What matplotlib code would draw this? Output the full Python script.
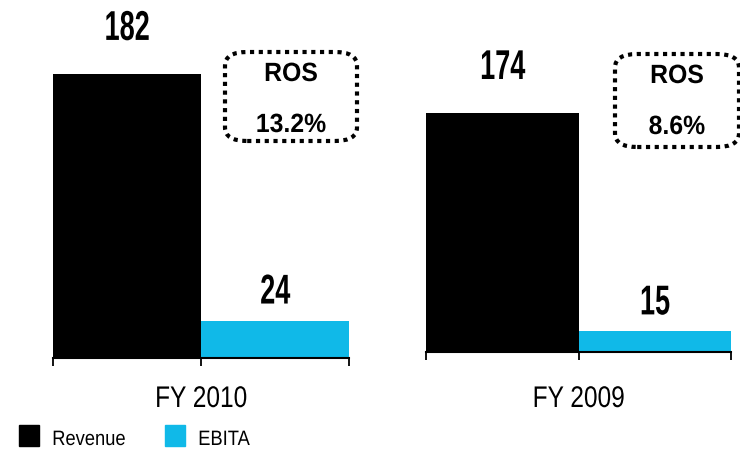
import matplotlib
matplotlib.use("Agg")
import matplotlib.pyplot as plt
from matplotlib.patches import FancyBboxPatch, Rectangle
from matplotlib.patheffects import AbstractPathEffect
from matplotlib.transforms import Affine2D

years = ["FY 2010", "FY 2009"]
series = ["Revenue", "EBITA"]
revenue = [182, 174]
ebita = [24, 15]
ros = ["13.2%", "8.6%"]

colors = ["#000000", "#10B9E8"]
W, H = 740, 452


class Squeeze(AbstractPathEffect):
    """Narrow the glyphs horizontally (the slide uses a condensed font)."""

    def __init__(self, sx, anchor="center"):
        super().__init__()
        self.sx = sx
        self.anchor = anchor

    def draw_path(self, renderer, gc, tpath, affine, rgbFace=None):
        ext = tpath.get_extents(affine)
        x0 = (ext.x0 + ext.x1) / 2 if self.anchor == "center" else ext.x0
        t = affine + Affine2D().translate(-x0, 0).scale(self.sx, 1).translate(x0, 0)
        renderer.draw_path(gc, tpath, t, rgbFace)


def fy(px):
    # pixel row from top -> figure fraction
    return 1 - px / H


fig = plt.figure(figsize=(W / 100, H / 100), dpi=100)

panels = [
    dict(rect=[53 / W, fy(359), 296 / W, 359 / H], ytop=230, box=(225, 53, 132, 89)),
    dict(rect=[426 / W, fy(353), 305 / W, 353 / H], ytop=257, box=(615, 55, 124, 93)),
]
label_off = [34, 17]  # px above bar top to baseline, revenue / ebita

for i, p in enumerate(panels):
    ax = fig.add_axes(p["rect"])
    vals = [revenue[i], ebita[i]]
    ax.bar([0, 1], vals, width=1.0, color=colors)
    ax.set_xlim(-0.5, 1.5)
    ax.set_ylim(0, p["ytop"])
    for s in ["top", "left", "right"]:
        ax.spines[s].set_visible(False)
    ax.spines["bottom"].set_linewidth(1.5)
    ax.set_yticks([])
    ax.set_xticks([-0.5, 0.5, 1.5])
    ax.set_xticklabels([])
    ax.tick_params(axis="x", direction="out", length=6, width=1.3)

    t = fig.text(p["rect"][0] + p["rect"][2] / 2, fy(408), years[i], ha="center",
                 va="baseline", fontsize=21.5, family="Liberation Sans")
    t.set_path_effects([Squeeze(0.82)])

    for x, v, off in zip([0, 1], vals, label_off):
        a = ax.annotate(str(v), (x, v), xytext=(0, off), textcoords="offset pixels",
                        ha="center", va="baseline", fontsize=30, fontweight="bold",
                        family="Liberation Sans")
        a.set_path_effects([Squeeze(0.65)])

    bx, by, bw, bh = p["box"]
    box = FancyBboxPatch((bx / W, fy(by + bh)), bw / W, bh / H,
                         boxstyle="round,pad=0,rounding_size=0.03",
                         transform=fig.transFigure, fill=False, edgecolor="black",
                         linewidth=3, linestyle=(0, (1, 1.1)))
    fig.patches.append(box)
    cx = (bx + bw / 2) / W
    for txt, dy in [("ROS", 29), (ros[i], 80)]:
        t = fig.text(cx, fy(by + dy), txt, ha="center", va="baseline",
                     fontsize=19, fontweight="bold", family="Liberation Sans")
        t.set_path_effects([Squeeze(0.94)])

# legend row along the bottom
for name, c, x0 in zip(series, colors, [19, 165]):
    fig.patches.append(Rectangle((x0 / W, fy(447)), 20 / W, 21 / H, color=c,
                                 transform=fig.transFigure))
    t = fig.text((x0 + 33) / W, fy(446), name, ha="left", va="baseline",
                 fontsize=15, family="Liberation Sans")
    t.set_path_effects([Squeeze(0.88, anchor="left")])

fig.savefig("out.png", dpi=100)
